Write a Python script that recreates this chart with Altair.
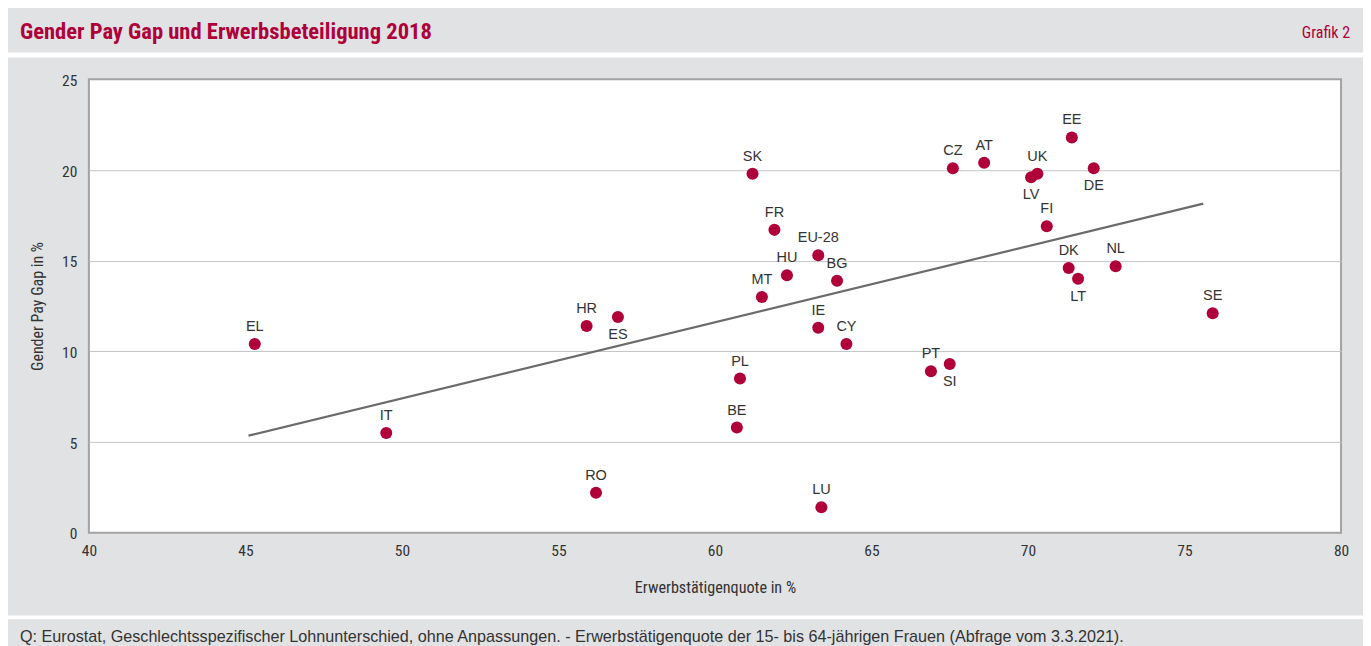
import altair as alt
import pandas as pd

# ---- data ----
countries = ["EL", "IT", "RO", "HR", "ES", "PL", "BE", "SK", "FR", "MT", "HU",
             "EU-28", "BG", "IE", "CY", "LU", "PT", "SI", "CZ", "AT", "UK", "LV",
             "EE", "DE", "FI", "DK", "LT", "NL", "SE"]
employment = [45.3, 49.5, 56.2, 55.9, 56.9, 60.8, 60.7, 61.2, 61.9, 61.5, 62.3,
              63.3, 63.9, 63.3, 64.2, 63.4, 66.9, 67.5, 67.6, 68.6, 70.3, 70.1,
              71.4, 72.1, 70.6, 71.3, 71.6, 72.8, 75.9]
pay_gap = [10.4, 5.5, 2.2, 11.4, 11.9, 8.5, 5.8, 19.8, 16.7, 13.0, 14.2,
           15.3, 13.9, 11.3, 10.4, 1.4, 8.9, 9.3, 20.1, 20.4, 19.8, 19.6,
           21.8, 20.1, 16.9, 14.6, 14.0, 14.7, 12.1]
label_side = ["above", "above", "above", "above", "below", "above", "above", "above",
              "above", "above", "above", "above", "above", "above", "above", "above",
              "above", "below", "above", "above", "above", "below", "above", "below",
              "above", "above", "below", "above", "above"]

trend_x = [45.1, 75.6]
trend_y = [5.35, 18.15]

x_ticks = [40, 45, 50, 55, 60, 65, 70, 75, 80]
y_ticks = [0, 5, 10, 15, 20, 25]

title_text = "Gender Pay Gap und Erwerbsbeteiligung 2018"
tag_text = "Grafik 2"
source_text = ("Q: Eurostat, Geschlechtsspezifischer Lohnunterschied, ohne Anpassungen. - "
               "Erwerbstätigenquote der 15- bis 64-jährigen Frauen (Abfrage vom 3.3.2021).")

# ---- styling ----
RED = "#b0003a"
GRAY_BG = "#e1e2e4"
COND = "Noto Sans Condensed, Roboto Condensed, Open Sans Condensed, DejaVu Sans Condensed, sans-serif"
SANS = "Liberation Sans, Arial, Helvetica, sans-serif"
TXT = "#333333"

W, H = 1254, 454

df = pd.DataFrame({"country": countries, "x": employment, "y": pay_gap, "side": label_side})
trend = pd.DataFrame({"x": trend_x, "y": trend_y})
one = pd.DataFrame({"a": [0]})

xscale = alt.Scale(domain=[40, 80], nice=False, zero=False)
yscale = alt.Scale(domain=[0, 25], nice=False, zero=False)

grid_op = {"condition": {"test": "datum.value == 0 || datum.value == 25", "value": 0}, "value": 1}

xaxis = alt.Axis(values=x_ticks, grid=False, domain=False, ticks=False, tickSize=0,
                 labelFlush=False, labelPadding=11, labelFontSize=15.5, labelFont=COND,
                 labelColor=TXT,
                 title="Erwerbstätigenquote in %", titleFont=COND, titleFontSize=16.2,
                 titleFontWeight="normal", titleColor=TXT, titleY=55,
                 titleBaseline="middle")
yaxis = alt.Axis(values=y_ticks, grid=True, gridColor="#c4c4c4", gridWidth=1,
                 gridOpacity=grid_op, domain=False, ticks=False, tickSize=0,
                 labelPadding=12, labelFontSize=15.5, labelFont=COND, labelColor=TXT,
                 labelBaseline="middle", labelOffset=1,
                 title="Gender Pay Gap in %", titleFont=COND, titleFontSize=16,
                 titleFontWeight="normal", titleColor=TXT, titleX=-51, titleY=H / 2,
                 titleAngle=-90, titleAlign="center", titleBaseline="middle")

# decorative bands (outside plot area)
def band(x1, x2, y1, y2, color):
    return alt.Chart(one).mark_rect(color=color).encode(
        x=alt.value(x1), x2=alt.value(x2), y=alt.value(y1), y2=alt.value(y2))

bands = [
    band(-81, 1276, -71, -27, GRAY_BG),   # title band
    band(-81, 1276, -27, -22, "white"),   # gap
    band(-81, 1276, 537, 541, "white"),   # gap
    band(-81, 1276, 541, 567, GRAY_BG),   # footer band
]

title = alt.Chart(one).mark_text(text=title_text, font=COND, fontSize=22.6, fontWeight="bold",
                                 color=RED, align="left", baseline="middle").encode(
    x=alt.value(-69), y=alt.value(-47))
tag = alt.Chart(one).mark_text(text=tag_text, font=COND, fontSize=16, color=RED,
                               align="right", baseline="middle").encode(
    x=alt.value(1263), y=alt.value(-46))
source = alt.Chart(one).mark_text(text=source_text, font=SANS, fontSize=16.2, color=TXT,
                                  align="left", baseline="middle").encode(
    x=alt.value(-69), y=alt.value(558))

line = alt.Chart(trend).mark_line(color="#6b6b6b", strokeWidth=2.2).encode(
    x=alt.X("x:Q", scale=xscale, axis=xaxis),
    y=alt.Y("y:Q", scale=yscale, axis=yaxis))

points = alt.Chart(df).mark_circle(size=145, color=RED, opacity=1).encode(
    x=alt.X("x:Q", scale=xscale),
    y=alt.Y("y:Q", scale=yscale))

lab_above = alt.Chart(df).transform_filter("datum.side == 'above'").mark_text(
    font=SANS, fontSize=14.5, color=TXT, dy=-17, baseline="middle").encode(
    x=alt.X("x:Q", scale=xscale), y=alt.Y("y:Q", scale=yscale), text="country:N")
lab_below = alt.Chart(df).transform_filter("datum.side == 'below'").mark_text(
    font=SANS, fontSize=14.5, color=TXT, dy=18, baseline="middle").encode(
    x=alt.X("x:Q", scale=xscale), y=alt.Y("y:Q", scale=yscale), text="country:N")

chart = alt.layer(*bands, title, tag, source, line, points, lab_above, lab_below).properties(
    width=W, height=H, padding=0, background=GRAY_BG
).configure_view(fill="white", stroke="#a3a3a3", strokeWidth=2)

chart.save("out.html", embed_options={"renderer": "svg", "actions": False})
